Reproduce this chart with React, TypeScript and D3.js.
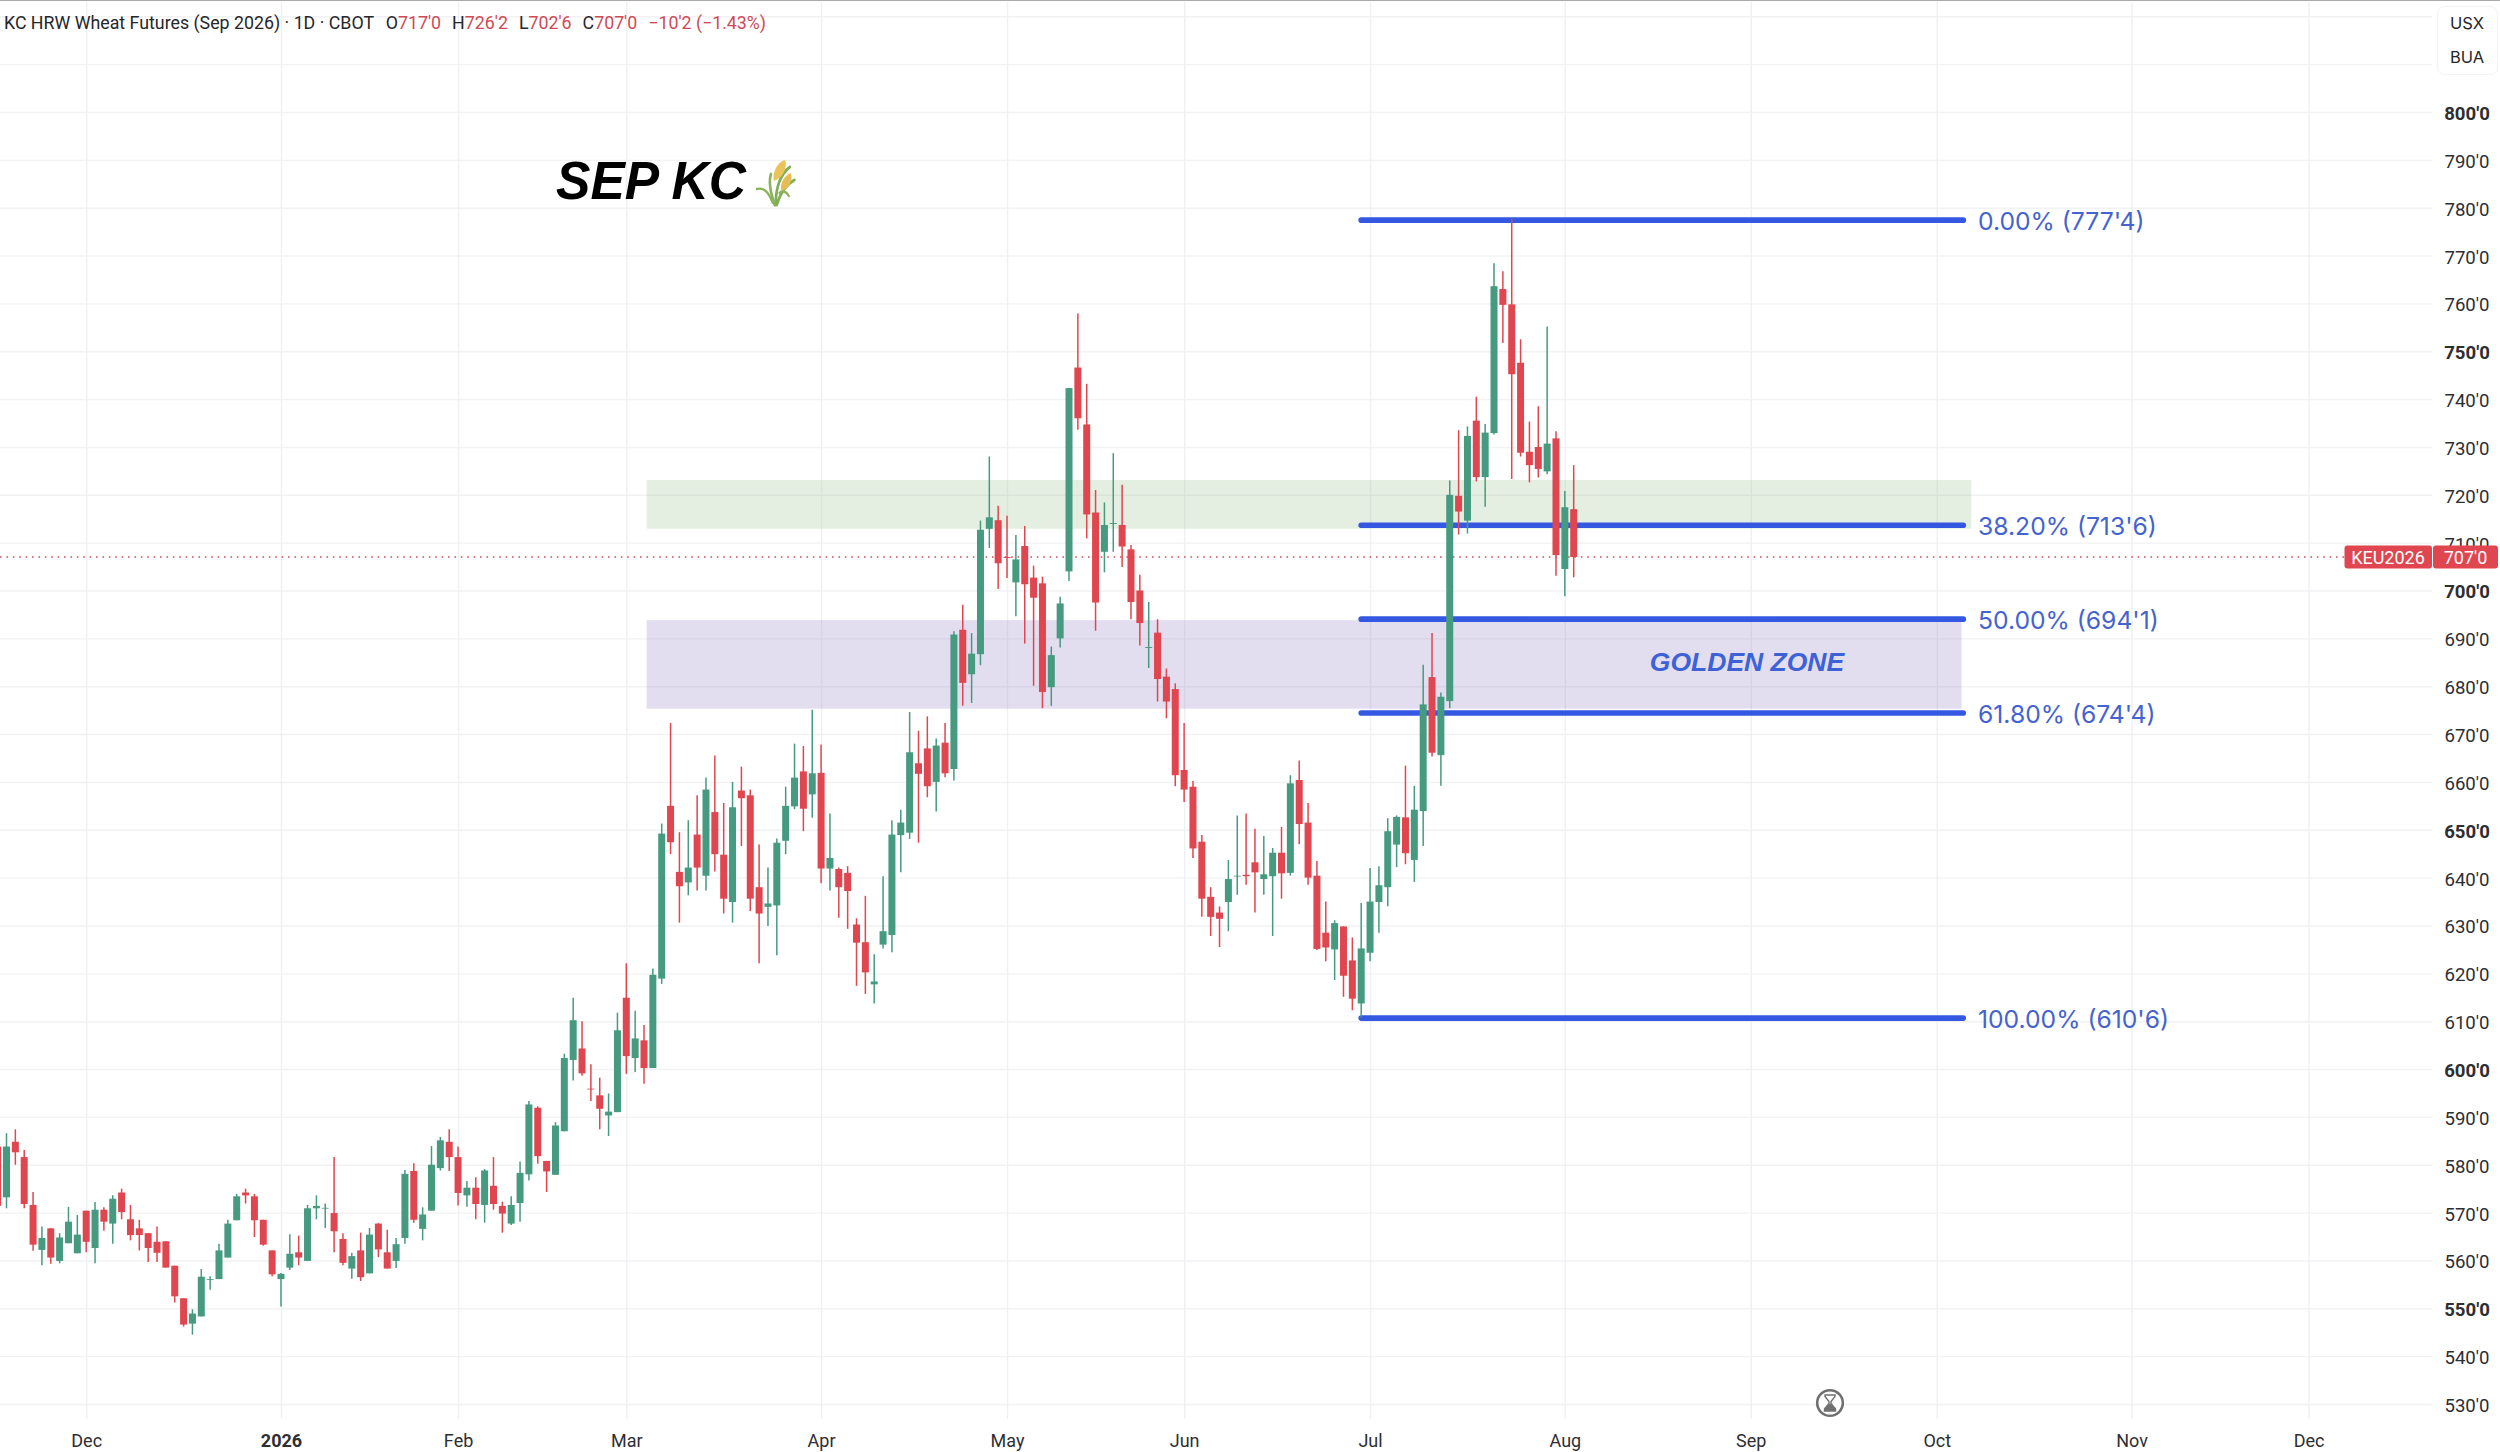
import { useEffect, useRef } from 'react';
import * as d3 from 'd3';

// daily bars, left to right, prices in cents
const opens = [
    583.8, 573.2, 584.8, 581.6, 571.6, 562.2, 566.7, 559.9, 563.6, 561.5,
    570.4, 562.6, 570.6, 567.7, 574.2, 568.6, 566.7, 565.7, 563.9, 564,
    558.9, 552.1, 546.8, 548.3, 556, 556.1, 560.6, 568.4, 574.2, 573.4,
    568.5, 562.1, 556.1, 558.5, 561.7, 559.9, 570.9, 570.9, 569.9, 564.5,
    558.3, 562.1, 557.3, 567.7, 561.7, 559.9, 564.7, 578.7, 566.6, 570.4,
    579.3, 584.8, 581.6, 573.6, 575.2, 571.6, 575.6, 571.4, 567.7, 572,
    578, 591.9, 580.8, 577.9, 587, 601.9, 604.3, 595.9, 594.5, 590.3,
    591, 614.9, 602.3, 606, 600.2, 618.9, 655, 641.2, 639, 649,
    640.4, 653.7, 644.8, 634.9, 658.2, 657.2, 638, 633.9, 634.2, 647.7,
    654.9, 662.2, 657.4, 661.9, 641.9, 641.8, 641, 630.2, 626.5, 617.7,
    626, 628, 648.9, 649.4, 663.9, 667, 660, 668.2, 662.7, 691.8,
    682.5, 686.7, 712.9, 714.7, 707, 701.7, 709.3, 702.7, 701.5, 679.8,
    690, 704, 746.6, 734.7, 716.3, 708.1, 713.9, 713.7, 708.6, 700,
    688, 691.2, 682, 679.4, 662.5, 659, 647.5, 636, 632.7, 634.9,
    640.3, 640.6, 643.2, 639.7, 640.3, 645.2, 641, 660.4, 651.5, 640.4,
    628.5, 625, 629.8, 622.7, 613.7, 624.3, 634.9, 638, 646.9, 652.6,
    643.7, 653.9, 681.9, 665.6, 676.9, 719.8, 714.6, 735.5, 723.7, 732.9,
    763, 759.8, 747.6, 729, 730, 724.9, 731.8, 704.5, 717,
];
const highs = [
    584.8, 586.6, 587.4, 583.1, 574.3, 567.1, 566.8, 565.7, 571.2, 569.5,
    570.4, 572.2, 571.1, 573.6, 575, 571.6, 568.5, 565.7, 567.1, 564,
    558.9, 552.1, 549.8, 558.2, 556.7, 563.5, 568.5, 573.9, 575, 573.9,
    568.5, 562.1, 557.4, 565.5, 565.2, 571.6, 573.6, 571.9, 581.6, 565.7,
    561.6, 565.8, 566.8, 567.8, 566.4, 564.7, 578.9, 580.3, 571.1, 583.9,
    585.8, 587.4, 583.8, 576.6, 577.4, 579.1, 581.6, 572.3, 573.4, 580.7,
    593.3, 592.2, 580.8, 588.9, 603.2, 614.9, 610, 601, 598.2, 594.9,
    611.8, 622.1, 612.2, 609.2, 621, 651.3, 672.3, 649.5, 652, 657.2,
    660.9, 665.5, 655.6, 660, 663.2, 658.4, 646.9, 642.1, 648.2, 659,
    668, 667.5, 675.1, 667.8, 653.4, 642.1, 642.4, 631.5, 636.2, 624,
    640.3, 652, 654.2, 674.6, 670.7, 673.7, 669.1, 672.3, 691.5, 697,
    691.1, 714.6, 728, 717.7, 715.6, 711.6, 713.5, 705.2, 702.9, 688.3,
    698.7, 742.3, 757.9, 743.2, 721, 718.4, 728.7, 722.1, 709.5, 703.3,
    697.6, 694, 683.7, 680.6, 672.3, 660.2, 648.9, 638, 634, 643.7,
    653, 653.4, 650.2, 648.7, 646.2, 650.6, 661.4, 664.5, 655.6, 643.5,
    635, 631.1, 629.8, 627.5, 634.7, 642, 642.4, 652.4, 653, 663.4,
    659.2, 684.5, 691.1, 678.7, 723, 733.5, 734.3, 740.5, 734.8, 768.4,
    766.7, 777.6, 752.5, 735.3, 738.5, 755.2, 733.3, 720.8, 726.2,
];
const lows = [
    571.2, 570.9, 580, 570.9, 562, 559, 559.3, 559.4, 563.6, 561.5,
    561.7, 559.4, 566.2, 563.5, 568.6, 564.2, 562.1, 559.7, 559.7, 558.5,
    551.2, 546.2, 544.5, 548.3, 553.9, 556.1, 560.6, 568.4, 571.9, 564.9,
    563.1, 556.7, 550.4, 558, 559, 559.9, 568.6, 566.8, 561.7, 559,
    556.2, 555.7, 557.3, 560.7, 558.3, 558.4, 563.5, 567.9, 564.2, 570.4,
    578.8, 578.7, 571.5, 571.2, 568.6, 567.9, 570.6, 565.8, 567.4, 568.1,
    576.7, 580.2, 574.3, 577.9, 587, 597.6, 598.6, 593.3, 587.4, 586,
    591, 599, 599.4, 596.9, 600.2, 617.8, 644.9, 630.6, 636.3, 637.3,
    637.3, 641.3, 632.5, 630.6, 646.6, 633, 622.1, 629.9, 623.8, 644.9,
    654.3, 649.7, 652.5, 638.8, 637.3, 631.6, 629.3, 617.4, 615.7, 613.7,
    625.2, 624.4, 641.1, 648.1, 647.3, 656.8, 653.8, 661, 660.3, 675.9,
    676.5, 684.4, 708.9, 700.3, 702.6, 694.6, 688.9, 680.1, 675.4, 675.9,
    688.1, 702, 733.6, 710.9, 691.6, 703.8, 708.1, 704.9, 694, 688.5,
    683.8, 676.8, 673.3, 659.1, 655.8, 644.1, 631.8, 627.8, 625.5, 628.8,
    636.4, 638.5, 632.7, 636.4, 627.8, 635.6, 640.4, 647, 638.5, 624.9,
    622.5, 618.6, 615.1, 612.3, 610.7, 622.5, 628.5, 634, 642.2, 642.8,
    639.1, 646.6, 665.3, 659.2, 675.4, 711.7, 711.9, 722.8, 717.5, 732.6,
    751.7, 723.3, 728, 722.6, 723.6, 724.3, 703.1, 698.8, 702.75,
];
const closes = [
    571.4, 583.8, 582.6, 571.8, 563.3, 564.7, 560.6, 564.8, 568.1, 565.4,
    563.9, 570.6, 568.1, 572.9, 570.1, 565.3, 565.3, 562.6, 561.6, 558.5,
    552.5, 546.6, 548.9, 556.6, 556.1, 562.1, 567.7, 573.4, 573.6, 568.4,
    563.3, 557.1, 557.2, 561.4, 560.6, 570.9, 571.4, 571, 566.1, 559.5,
    560.9, 556.5, 565.4, 562.3, 558.3, 563.4, 578.1, 568.5, 569.6, 580,
    585.1, 581.6, 574.1, 575.2, 571.8, 578.8, 571.8, 569.8, 571.6, 578.3,
    592.6, 581.8, 578.6, 588.2, 602.3, 610.2, 599.1, 595.8, 591.7, 591.1,
    608.1, 602.7, 606.4, 600.2, 619.7, 649.2, 647.4, 638.2, 642.1, 642.1,
    658.4, 644.9, 635.6, 654.7, 656.6, 635.6, 632.5, 634.6, 647.3, 655,
    660.9, 654.4, 661.8, 641.9, 644.1, 638, 637.2, 626.4, 620.2, 618.3,
    628.8, 649, 651.5, 666.2, 661.7, 659.1, 667.6, 661.8, 690.8, 680.7,
    686.8, 712.7, 715.3, 705.7, 706.8, 706.5, 701.3, 698.5, 678.8, 686.5,
    697.3, 742.3, 736, 715.9, 697.5, 713.7, 714.1, 709.2, 697.6, 693.2,
    688.2, 681.5, 676.8, 661.4, 658.4, 646.1, 635.6, 631.8, 631.4, 639.7,
    640.4, 640.3, 641.1, 640.7, 645.2, 640.9, 659.7, 651.2, 640, 625.1,
    625.4, 630.5, 619.5, 614.7, 625.2, 635, 638.4, 649.7, 652.7, 645.1,
    654.2, 676.2, 666.1, 677.8, 720, 716.5, 732.3, 723.7, 733, 763.6,
    759.7, 745.2, 728.8, 726.2, 725.4, 730.7, 707.4, 717.4, 707,
];

// month labels on the time axis, by bar number (the last ones run past the data)
const monthBars = [10, 32, 52, 71, 93, 114, 134, 155, 177, 198, 219, 241, 261];
const monthLabels = ['Dec', '2026', 'Feb', 'Mar', 'Apr', 'May', 'Jun', 'Jul', 'Aug', 'Sep', 'Oct', 'Nov', 'Dec'];

const priceTicks = d3.range(530, 801, 10);
const gridPrices = d3.range(530, 821, 10);

const fibPrices = [777.5, 713.75, 694.125, 674.5, 610.75];
const fibLabels = ["0.00% (777'4)", "38.20% (713'6)", "50.00% (694'1)", "61.80% (674'4)", "100.00% (610'6)"];
const fibBars = [154, 222];

const supplyZone = [723.1, 712.9];
const supplyBars = [73.3, 222.9];
const goldenZone = [693.8, 675.3];
const goldenBars = [73.3, 221.8];

const lastPrice = 707;
const lastLabel = "707'0";
const tickerLabel = 'KEU2026';

const legendTitle = "KC HRW Wheat Futures (Sep 2026) · 1D · CBOT";
const legendOhlc = [
    ['O', "717'0"],
    ['H', "726'2"],
    ['L', "702'6"],
    ['C', "707'0"],
];
const legendChange = "−10'2 (−1.43%)";

const W = 2500;
const H = 1452;
const UP = '#459a80';
const DOWN = '#e0464f';
const BLUE = '#3558e3';
const SANS = 'Inter, Roboto, sans-serif';
const ARIAL = '"Liberation Sans", Arial, sans-serif';

const fmtPrice = (v: number) => `${v}'0`;

export default function App() {
    const ref = useRef<SVGSVGElement | null>(null);

    useEffect(() => {
        if (!ref.current) return;

        const x = d3.scaleLinear().domain([1, 178]).range([6.5, 1573.7]);
        const y = d3.scaleLinear().domain([530, 800]).range([1404, 112]);

        const svg = d3.select(ref.current);
        svg.selectAll('*').remove();

        svg.append('rect').attr('width', W).attr('height', H).attr('fill', '#fff');
        svg.append('line').attr('x1', 0).attr('x2', W).attr('y1', 0.5).attr('y2', 0.5).attr('stroke', '#aaa').attr('stroke-width', 1.2);

        // grid
        const gridY = svg
            .append('g')
            .attr('transform', 'translate(2432,0)')
            .call(d3.axisLeft(y).tickValues(gridPrices).tickSize(2432).tickFormat(() => ''));
        gridY.select('.domain').remove();
        gridY.selectAll('line').attr('stroke', '#f1f2f4').attr('stroke-width', 1.4);

        const gridX = svg
            .append('g')
            .attr('transform', 'translate(0,1419)')
            .call(d3.axisTop(x).tickValues(monthBars).tickSize(1417).tickFormat(() => ''));
        gridX.select('.domain').remove();
        gridX.selectAll('line').attr('stroke', '#eff0f3').attr('stroke-width', 1.4);

        // zones
        svg.append('rect')
            .attr('x', x(supplyBars[0]))
            .attr('width', x(supplyBars[1]) - x(supplyBars[0]))
            .attr('y', y(supplyZone[0]))
            .attr('height', y(supplyZone[1]) - y(supplyZone[0]))
            .attr('fill', '#93bf8b')
            .attr('fill-opacity', 0.25);
        svg.append('rect')
            .attr('x', x(goldenBars[0]))
            .attr('width', x(goldenBars[1]) - x(goldenBars[0]))
            .attr('y', y(goldenZone[0]))
            .attr('height', y(goldenZone[1]) - y(goldenZone[0]))
            .attr('fill', '#8f77c3')
            .attr('fill-opacity', 0.25);

        // last price line
        svg.append('line')
            .attr('x1', 0)
            .attr('x2', 2345)
            .attr('y1', y(lastPrice))
            .attr('y2', y(lastPrice))
            .attr('stroke', '#c9535c')
            .attr('stroke-width', 1.4)
            .attr('stroke-dasharray', '1.6 4.8');

        // fib levels
        svg.selectAll('line.fib')
            .data(fibPrices)
            .join('line')
            .attr('class', 'fib')
            .attr('x1', x(fibBars[0]))
            .attr('x2', x(fibBars[1]))
            .attr('y1', d => y(d) + 0.5)
            .attr('y2', d => y(d) + 0.5)
            .attr('stroke', BLUE)
            .attr('stroke-width', 5.6)
            .attr('stroke-linecap', 'round');

        svg.selectAll('text.fib')
            .data(fibPrices)
            .join('text')
            .attr('class', 'fib')
            .attr('x', 1978)
            .attr('y', d => y(d) + 10.5)
            .attr('fill', '#4563cf')
            .attr('font-family', SANS)
            .attr('font-size', 24.7)
            .text((_, i) => fibLabels[i]);

        // candles
        const bars = d3.range(opens.length);
        const candle = svg
            .selectAll('g.bar')
            .data(bars)
            .join('g')
            .attr('class', 'bar')
            .attr('fill', i => (closes[i] >= opens[i] ? UP : DOWN))
            .attr('stroke', i => (closes[i] >= opens[i] ? UP : DOWN));
        candle
            .append('line')
            .attr('x1', i => x(i))
            .attr('x2', i => x(i))
            .attr('y1', i => y(highs[i]))
            .attr('y2', i => y(lows[i]))
            .attr('stroke-width', 1.5);
        candle
            .append('rect')
            .attr('x', i => x(i) - 3.5)
            .attr('width', 7)
            .attr('y', i => y(Math.max(opens[i], closes[i])))
            .attr('height', i => Math.max(0.8, Math.abs(y(opens[i]) - y(closes[i]))))
            .attr('stroke', 'none');

        // price axis
        const axisY = svg
            .append('g')
            .attr('transform', 'translate(2467,1.5)')
            .call(d3.axisRight(y).tickValues(priceTicks).tickSize(0).tickPadding(0).tickFormat(d => fmtPrice(+d)));
        axisY.select('.domain').remove();
        axisY
            .selectAll('text')
            .attr('text-anchor', 'middle')
            .attr('font-family', 'Roboto, sans-serif')
            .attr('font-size', 18.6)
            .attr('fill', '#2e2e33')
            .attr('font-weight', d => (+(d as number) % 50 === 0 ? 700 : 400));

        // time axis
        const axisX = svg
            .append('g')
            .attr('transform', 'translate(0,1422.5)')
            .call(d3.axisBottom(x).tickValues(monthBars).tickSize(0).tickPadding(12).tickFormat((_, i) => monthLabels[i]));
        axisX.select('.domain').remove();
        axisX
            .selectAll('text')
            .attr('font-family', 'Roboto, sans-serif')
            .attr('font-size', 18)
            .attr('fill', '#2e2e33')
            .attr('font-weight', (_, i) => (monthLabels[i] === '2026' ? 700 : 400));

        // legend line
        const legend = svg
            .append('text')
            .attr('x', 4)
            .attr('y', 29)
            .attr('font-family', 'Roboto, sans-serif')
            .attr('font-size', 17.8)
            .attr('fill', '#26262b')
            .attr('xml:space', 'preserve');
        legend.append('tspan').text(legendTitle);
        legendOhlc.forEach(([k, v], i) => {
            legend.append('tspan').attr('dx', i === 0 ? 12 : 11).text(k);
            legend.append('tspan').attr('fill', '#cf4a55').text(v);
        });
        legend.append('tspan').attr('dx', 11).attr('fill', '#cf4a55').text(legendChange);

        // currency and unit box
        svg.append('rect').attr('x', 2437.5).attr('y', 6.5).attr('width', 60).attr('height', 68).attr('rx', 7).attr('fill', '#fff').attr('stroke', '#f2f2f3');
        svg.selectAll('text.unit')
            .data(['USX', 'BUA'])
            .join('text')
            .attr('class', 'unit')
            .attr('x', 2467)
            .attr('y', (_, i) => 29 + i * 34)
            .attr('text-anchor', 'middle')
            .attr('font-family', SANS)
            .attr('font-size', 16.5)
            .attr('fill', '#26262b')
            .text(d => d);

        // annotations
        svg.append('text')
            .attr('x', 556)
            .attr('y', 199)
            .attr('font-family', ARIAL)
            .attr('font-size', 54)
            .attr('font-weight', 700)
            .attr('font-style', 'italic')
            .attr('fill', '#000')
            .attr('textLength', 190)
            .attr('lengthAdjust', 'spacingAndGlyphs')
            .text('SEP KC');
        svg.append('text')
            .attr('x', 1747)
            .attr('y', 671)
            .attr('text-anchor', 'middle')
            .attr('font-family', ARIAL)
            .attr('font-size', 26.5)
            .attr('font-weight', 700)
            .attr('font-style', 'italic')
            .attr('fill', '#3d62d8')
            .text('GOLDEN ZONE');

        // wheat emoji
        const wheat = svg.append('g').attr('transform', 'translate(755,160) scale(0.94,1)').attr('fill', 'none').attr('stroke-linecap', 'round');
        wheat.append('path').attr('d', 'M21 45 C17 34 14 22 17 14').attr('stroke', '#8bb35a').attr('stroke-width', 2.8);
        wheat.append('path').attr('d', 'M22 45 C22 30 26 15 37 7').attr('stroke', '#7fae55').attr('stroke-width', 2.8);
        wheat.append('path').attr('d', 'M23 45 C26 36 32 25 42 20').attr('stroke', '#7fae55').attr('stroke-width', 2.8);
        wheat.append('path').attr('d', 'M19 43 C15 34 11 27 2 29').attr('stroke', '#8bb35a').attr('stroke-width', 2.4);
        wheat.append('path').attr('d', 'M26 33 C29 30 33 31 36 36').attr('stroke', '#8bb35a').attr('stroke-width', 2.4);
        wheat.append('path').attr('d', 'M20 21 C18 12 24 2 32 0 C35 7 30 18 20 21Z').attr('fill', '#e9c45a');
        wheat.append('path').attr('d', 'M28 31 C26 23 32 15 38 13 C41 20 36 29 28 31Z').attr('fill', '#e6bd52');

        // hourglass marker
        const glass = svg.append('g').attr('transform', 'translate(1830,1403)');
        glass.append('circle').attr('r', 12.8).attr('fill', '#fff').attr('stroke', '#707070').attr('stroke-width', 2.6);
        glass.append('path').attr('d', 'M-5 -8H5V-6.5L1 -1.5V0.5L5.5 6V8H-5.5V6L-1 0.5V-1.5L-5 -6.5Z').attr('fill', '#fff').attr('stroke', '#707070').attr('stroke-width', 1.4);
        glass.append('path').attr('d', 'M-5.5 8V5L0 0.5L5.5 5V8Z').attr('fill', '#707070');

        // last price tags
        svg.append('rect').attr('x', 2344.5).attr('y', y(lastPrice) - 11.5).attr('width', 87.5).attr('height', 23).attr('rx', 3).attr('fill', DOWN);
        svg.append('rect').attr('x', 2433).attr('y', y(lastPrice) - 11.5).attr('width', 65).attr('height', 23).attr('rx', 3).attr('fill', DOWN);
        svg.selectAll('text.tag')
            .data([tickerLabel, lastLabel])
            .join('text')
            .attr('class', 'tag')
            .attr('x', (_, i) => (i === 0 ? 2388 : 2465.5))
            .attr('y', y(lastPrice) + 6.5)
            .attr('text-anchor', 'middle')
            .attr('font-family', 'Roboto, sans-serif')
            .attr('font-size', 18)
            .attr('fill', '#fff')
            .text(d => d);
    }, []);

    return <svg ref={ref} width={W} height={H} style={{ position: 'absolute', left: 0, top: 0, display: 'block' }} />;
}
